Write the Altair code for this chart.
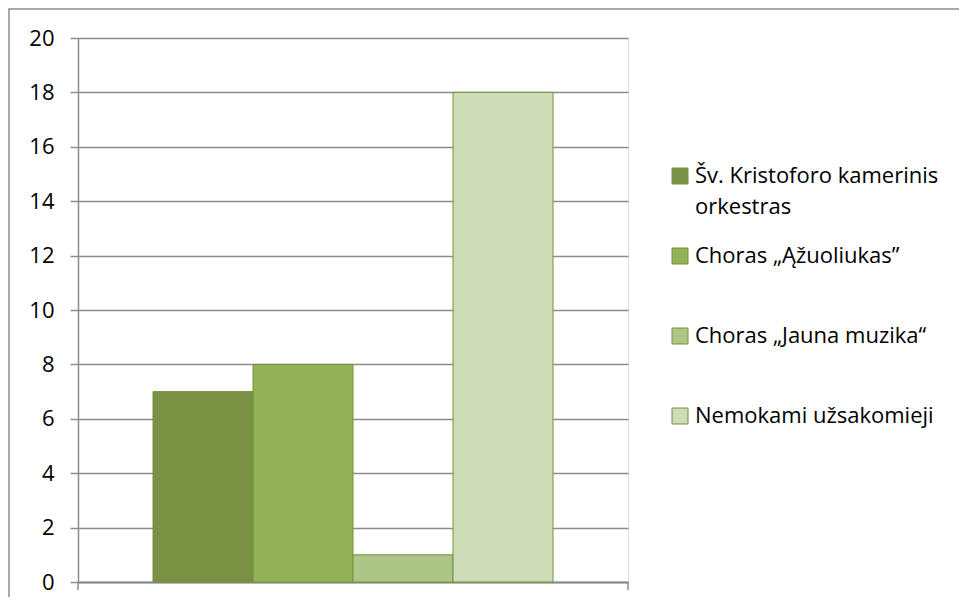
import altair as alt
import pandas as pd

series = ["Šv. Kristoforo kamerinis orkestras", "Choras „Ąžuoliukas”", "Choras „Jauna muzika“", "Nemokami užsakomieji"]
values = [7, 8, 1, 18]
colors = ["#7a9143", "#93b157", "#adc687", "#cfdcb8"]
y_ticks = [0, 2, 4, 6, 8, 10, 12, 14, 16, 18, 20]

df = pd.DataFrame({"series": series, "value": values})

W, H = 550, 544

label_expr = ("datum.label == 'Šv. Kristoforo kamerinis orkestras' ? "
              "['Šv. Kristoforo kamerinis', 'orkestras'] : [datum.label, ' ']")

bars = alt.Chart(df).mark_bar(stroke="#75923c", strokeWidth=1).encode(
    x=alt.X("series:N", sort=series,
            scale=alt.Scale(paddingInner=0, paddingOuter=0.75),
            axis=alt.Axis(title=None, labels=False, ticks=False, domain=True,
                          domainColor="#8c8c8c", domainWidth=2)),
    y=alt.Y("value:Q", scale=alt.Scale(domain=[0, 20]),
            axis=alt.Axis(title=None, values=y_ticks, grid=True, gridColor="#8c8c8c",
                          gridWidth=1.5, tickColor="#8c8c8c", tickWidth=1.5, tickSize=8,
                          domainColor="#8c8c8c", domainWidth=1.5,
                          labelFontSize=22, labelFont="Open Sans", labelColor="#000000",
                          labelPadding=16)),
    color=alt.Color("series:N", sort=series,
                    scale=alt.Scale(domain=series, range=colors),
                    legend=alt.Legend(title=None, orient="none", legendX=591, legendY=127,
                                      symbolType="square", symbolSize=256,
                                      symbolStrokeColor="#75923c", symbolStrokeWidth=1,
                                      labelFontSize=22, labelFont="Open Sans", labelColor="#000000",
                                      labelLimit=400, rowPadding=27, labelOffset=4,
                                      labelExpr=label_expr)),
)

frame_df = pd.DataFrame({"a": [0]})
frame = alt.Chart(frame_df).mark_rect(filled=False, stroke="#8c8c8c", strokeWidth=1.5).encode(
    x=alt.value(-69), x2=alt.value(900), y=alt.value(-29), y2=alt.value(620)
)

xticks = alt.Chart(frame_df).mark_rule(color="#8c8c8c", strokeWidth=1.5).encode(
    x=alt.value(0), y=alt.value(H), y2=alt.value(H + 8)
)
xticks2 = alt.Chart(frame_df).mark_rule(color="#8c8c8c", strokeWidth=1.5).encode(
    x=alt.value(W), y=alt.value(H), y2=alt.value(H + 8)
)

chart = alt.layer(frame, bars, xticks, xticks2).properties(
    width=W, height=H,
    autosize=alt.AutoSizeParams(type="none"),
    padding={"left": 70, "top": 30, "right": 331, "bottom": 15},
).configure_view(fill="#eff2e8", stroke=None).configure(
    background="#ffffff",
    style={"guide-label": {"lineHeight": 31}},
)

chart.save("out.html", embed_options={"renderer": "svg", "actions": False})
